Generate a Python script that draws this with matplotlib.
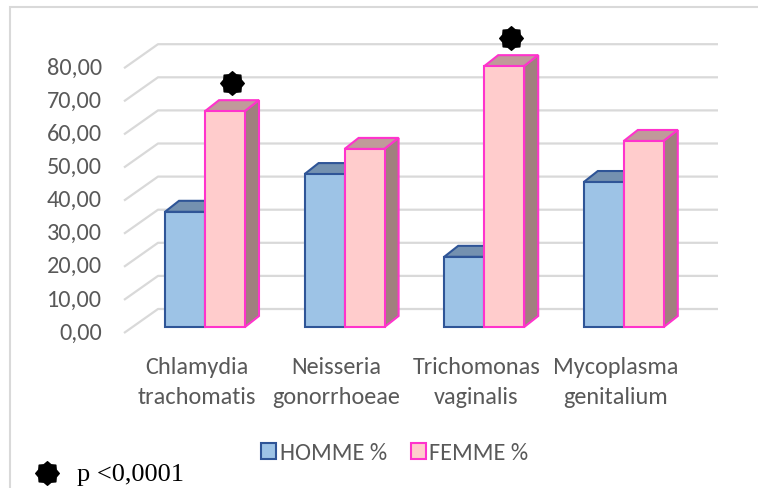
import matplotlib
matplotlib.use("Agg")
import matplotlib.pyplot as plt
from matplotlib.patches import Polygon, Patch, Rectangle
from matplotlib.lines import Line2D
from matplotlib.path import Path

# données
categories = ["Chlamydia\ntrachomatis", "Neisseria\ngonorrhoeae", "Trichomonas\nvaginalis", "Mycoplasma\ngenitalium"]
homme = [34.8, 46.2, 21.2, 43.8]
femme = [65.2, 53.8, 78.8, 56.2]
signif = [True, False, True, False]     # p < 0,0001
yticks = [0, 10, 20, 30, 40, 50, 60, 70, 80]

W, H = 758, 488
SX, SY = 139.6, 3.31          # px par catégorie / px par unité
X0, Y0 = 205, 327             # centre cat. 0, base des barres (px)
GRAY = "#595959"
FONT = ["Carlito", "Lato", "DejaVu Sans"]
FS = 17.5

# géométrie pseudo-3D (px -> unités)
bw = 40 / SX
ddx, ddy = 14 / SX, 11 / SY           # profondeur des barres
fx, fy = -8 / SX, -6 / SY             # bord avant du sol
wx, wy = 26 / SX, 18 / SY             # paroi du fond
x_left = (124 - X0) / SX
x_right = (718 - X0) / SX

fig = plt.figure(figsize=(W / 100, H / 100), dpi=100)
ax = fig.add_axes([0, 0, 1, 1])
ax.set_xlim(-X0 / SX, (W - X0) / SX)
ax.set_ylim(-(H - Y0) / SY, Y0 / SY)
ax.axis("off")

# cadre du graphique
fig.add_artist(Rectangle((10 / W, -0.1), 1.2, 1 - 7 / H + 0.1, transform=fig.transFigure,
                         fill=False, ec="#d9d9d9", lw=1.5))

# quadrillage (paroi + côté gauche)
for v in yticks:
    ax.plot([x_left, x_left + wx - fx, x_right], [v + fy, v + wy, v + wy],
            color="#d9d9d9", lw=1.6, zorder=1, solid_capstyle="butt")
    ax.text(x_left - 22 / SX, v + fy, ("%.2f" % v).replace(".", ","), ha="right", va="center",
            fontsize=FS, color=GRAY, family=FONT)


def bar3d(x0, v, front, top, side, edge, z):
    ax.bar(x0, v, width=bw, align="edge", color=front, edgecolor=edge, lw=1.5, zorder=z + 1)
    ax.add_patch(Polygon([(x0, v), (x0 + bw, v), (x0 + bw + ddx, v + ddy), (x0 + ddx, v + ddy)],
                         closed=True, fc=top, ec=edge, lw=1.5, zorder=z))
    ax.add_patch(Polygon([(x0 + bw, 0), (x0 + bw, v), (x0 + bw + ddx, v + ddy), (x0 + bw + ddx, ddy)],
                         closed=True, fc=side, ec=edge, lw=1.5, zorder=z))


star = Path.unit_regular_star(8, 0.8)
for i in range(len(categories)):
    bar3d(i - bw, homme[i], "#9dc3e6", "#7491b0", "#5f7fa3", "#2f5597", 2)
    bar3d(i, femme[i], "#ffcccc", "#c09a9a", "#a0807e", "#ff33cc", 4)
    if signif[i]:
        ax.plot(i + bw / 2 + ddx / 2, femme[i] + ddy + 5.2, marker=star, ms=17, color="black",
                zorder=6, clip_on=False)
    ax.text(i + fx, -16.8, categories[i], ha="center", va="center", fontsize=FS, color=GRAY,
            family=FONT, linespacing=1.55)

handles = [Patch(fc="#9dc3e6", ec="#2f5597", lw=1.5, label="HOMME %"),
           Patch(fc="#ffcccc", ec="#ff33cc", lw=1.5, label="FEMME %")]
fig.legend(handles=handles, loc="center", bbox_to_anchor=(395 / W, 1 - 453 / H), ncol=2,
           frameon=False, handlelength=0.6, handleheight=0.6, handletextpad=0.15,
           columnspacing=1.0, prop={"family": FONT, "size": FS}, labelcolor=GRAY)

fig.add_artist(Line2D([47 / W], [1 - 473 / H], marker=star, ms=17, color="black",
                      transform=fig.transFigure))
fig.text(77 / W, 1 - 475 / H, "p <0,0001", ha="left", va="center", fontsize=19,
         family=["Liberation Serif", "DejaVu Serif"], color="black")

fig.savefig("out.png", dpi=100)
